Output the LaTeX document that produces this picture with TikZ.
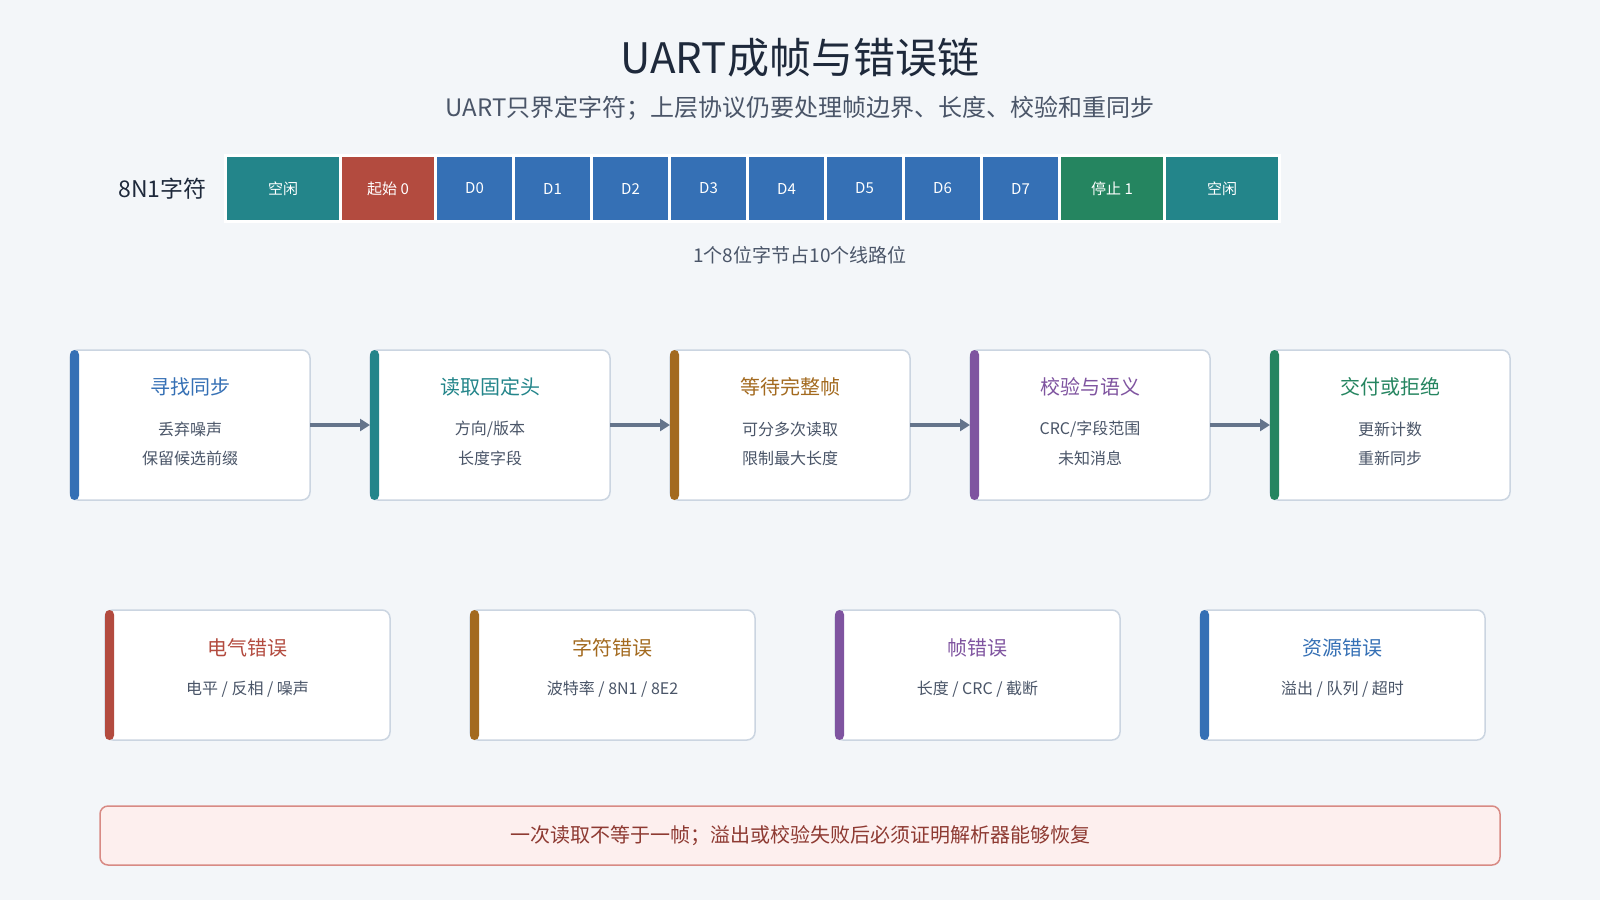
\documentclass[tikz,border=0pt]{standalone}
\usepackage{fontspec}
\setmainfont{Noto Sans CJK SC}
\usetikzlibrary{positioning}
\usetikzlibrary{arrows.meta}

\definecolor{bg}{HTML}{F3F6F9}
\definecolor{ink}{HTML}{1E293B}
\definecolor{slate}{HTML}{4A5568}
\definecolor{idleteal}{HTML}{23858A}
\definecolor{startred}{HTML}{B34B3F}
\definecolor{databit}{HTML}{3570B5}
\definecolor{stopgreen}{HTML}{258560}
\definecolor{amber}{HTML}{A36A1F}
\definecolor{violet}{HTML}{7F54A0}
\definecolor{arrowgray}{HTML}{64748B}
\definecolor{boxline}{HTML}{CBD5E1}
\definecolor{notefill}{HTML}{FDEFEE}
\definecolor{noteline}{HTML}{D88A84}
\definecolor{notetext}{HTML}{8E3A32}

\tikzset{
  bitcell/.style={draw=white, line width=3pt, outer sep=0pt, inner sep=0pt,
    minimum height=66pt, text=white, font=\fontsize{15}{18}\selectfont},
  stagebox/.style={draw=boxline, line width=1.5pt, fill=white, rounded corners=8pt,
    outer sep=0pt, minimum width=240pt, minimum height=150pt},
  errbox/.style={stagebox, minimum width=285pt, minimum height=130pt},
  boxtitle/.style={font=\fontsize{20}{24}\selectfont},
  boxtext/.style={text=slate, font=\fontsize{16}{20}\selectfont},
  flow/.style={draw=arrowgray, line width=4pt, -{Triangle[length=10pt,width=12pt]}},
}

\begin{document}
\begin{tikzpicture}[x=1pt, y=-1pt]
  \useasboundingbox (0,0) rectangle (1600,900);
  \fill[bg] (0,0) rectangle (1600,900);

  \node[text=ink, font=\fontsize{42}{48}\selectfont] (title) at (800,58) {UART成帧与错误链};
  \node[text=slate, font=\fontsize{24}{28}\selectfont] (subtitle) at (800,108)
    {UART只界定字符；上层协议仍要处理帧边界、长度、校验和重同步};

  % one 8N1 character on the line
  \node[anchor=east, text=ink, font=\fontsize{23}{26}\selectfont] (charlabel) at (210,188.5) {8N1字符};
  \node[bitcell, fill=idleteal, minimum width=115pt, anchor=west] (idleA) at (225.5,188.5) {空闲};
  \node[bitcell, fill=startred, minimum width=95pt, right=0pt of idleA] (startbit) {起始 0};
  \node[bitcell, fill=databit, minimum width=78pt, right=0pt of startbit] (d0) {D0};
  \node[bitcell, fill=databit, minimum width=78pt, right=0pt of d0] (d1) {D1};
  \node[bitcell, fill=databit, minimum width=78pt, right=0pt of d1] (d2) {D2};
  \node[bitcell, fill=databit, minimum width=78pt, right=0pt of d2] (d3) {D3};
  \node[bitcell, fill=databit, minimum width=78pt, right=0pt of d3] (d4) {D4};
  \node[bitcell, fill=databit, minimum width=78pt, right=0pt of d4] (d5) {D5};
  \node[bitcell, fill=databit, minimum width=78pt, right=0pt of d5] (d6) {D6};
  \node[bitcell, fill=databit, minimum width=78pt, right=0pt of d6] (d7) {D7};
  \node[bitcell, fill=stopgreen, minimum width=105pt, right=0pt of d7] (stopbit) {停止 1};
  \node[bitcell, fill=idleteal, minimum width=115pt, right=0pt of stopbit] (idleB) {空闲};
  \node[text=slate, font=\fontsize{19}{22}\selectfont] (bitnote) at (800,255) {1个8位字节占10个线路位};

  % parser stages
  \node[stagebox] (sync) at (190,425) {};
  \node[stagebox] (header) at (490,425) {};
  \node[stagebox] (wait) at (790,425) {};
  \node[stagebox] (check) at (1090,425) {};
  \node[stagebox] (deliver) at (1390,425) {};
  \draw[flow] (sync.east) -- (header.west);
  \draw[flow] (header.east) -- (wait.west);
  \draw[flow] (wait.east) -- (check.west);
  \draw[flow] (check.east) -- (deliver.west);
  \fill[databit, rounded corners=4.5pt] (sync.north west) rectangle ([xshift=9pt]sync.south west);
  \fill[idleteal, rounded corners=4.5pt] (header.north west) rectangle ([xshift=9pt]header.south west);
  \fill[amber, rounded corners=4.5pt] (wait.north west) rectangle ([xshift=9pt]wait.south west);
  \fill[violet, rounded corners=4.5pt] (check.north west) rectangle ([xshift=9pt]check.south west);
  \fill[stopgreen, rounded corners=4.5pt] (deliver.north west) rectangle ([xshift=9pt]deliver.south west);

  \node[boxtitle, text=databit] (syncT) at (190,387) {寻找同步};
  \node[boxtext] (syncA) at (190,429) {丢弃噪声};
  \node[boxtext] (syncB) at (190,458) {保留候选前缀};
  \node[boxtitle, text=idleteal] (headerT) at (490,387) {读取固定头};
  \node[boxtext] (headerA) at (490,429) {方向/版本};
  \node[boxtext] (headerB) at (490,458) {长度字段};
  \node[boxtitle, text=amber] (waitT) at (790,387) {等待完整帧};
  \node[boxtext] (waitA) at (790,429) {可分多次读取};
  \node[boxtext] (waitB) at (790,458) {限制最大长度};
  \node[boxtitle, text=violet] (checkT) at (1090,387) {校验与语义};
  \node[boxtext] (checkA) at (1090,429) {CRC/字段范围};
  \node[boxtext] (checkB) at (1090,458) {未知消息};
  \node[boxtitle, text=stopgreen] (deliverT) at (1390,387) {交付或拒绝};
  \node[boxtext] (deliverA) at (1390,429) {更新计数};
  \node[boxtext] (deliverB) at (1390,458) {重新同步};

  % error classes
  \node[errbox] (elec) at (247.5,675) {};
  \node[errbox] (charerr) at (612.5,675) {};
  \node[errbox] (frameerr) at (977.5,675) {};
  \node[errbox] (reserr) at (1342.5,675) {};
  \fill[startred, rounded corners=4.5pt] (elec.north west) rectangle ([xshift=9pt]elec.south west);
  \fill[amber, rounded corners=4.5pt] (charerr.north west) rectangle ([xshift=9pt]charerr.south west);
  \fill[violet, rounded corners=4.5pt] (frameerr.north west) rectangle ([xshift=9pt]frameerr.south west);
  \fill[databit, rounded corners=4.5pt] (reserr.north west) rectangle ([xshift=9pt]reserr.south west);

  \node[boxtitle, text=startred] (elecT) at (247.5,648) {电气错误};
  \node[boxtext] (elecA) at (247.5,689) {电平 / 反相 / 噪声};
  \node[boxtitle, text=amber] (charerrT) at (612.5,648) {字符错误};
  \node[boxtext] (charerrA) at (612.5,689) {波特率 / 8N1 / 8E2};
  \node[boxtitle, text=violet] (frameerrT) at (977.5,648) {帧错误};
  \node[boxtext] (frameerrA) at (977.5,689) {长度 / CRC / 截断};
  \node[boxtitle, text=databit] (reserrT) at (1342.5,648) {资源错误};
  \node[boxtext] (reserrA) at (1342.5,689) {溢出 / 队列 / 超时};

  \node[draw=noteline, fill=notefill, line width=1.5pt, rounded corners=8pt,
    minimum width=1400pt, minimum height=59pt, text=notetext,
    font=\fontsize{20}{24}\selectfont] (lesson) at (800,835.5)
    {一次读取不等于一帧；溢出或校验失败后必须证明解析器能够恢复};
\end{tikzpicture}
\end{document}
